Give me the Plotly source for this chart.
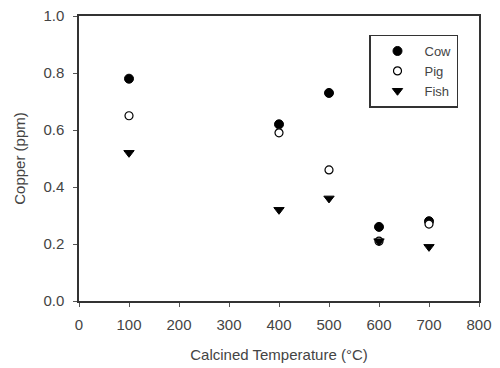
import plotly.graph_objects as go

temps = [100, 400, 500, 600, 700]
cow = [0.78, 0.62, 0.73, 0.26, 0.28]
pig = [0.65, 0.59, 0.46, 0.21, 0.27]
fish = [0.52, 0.32, 0.36, 0.21, 0.19]

x_ticks = [0, 100, 200, 300, 400, 500, 600, 700, 800]
y_ticks = [0.0, 0.2, 0.4, 0.6, 0.8, 1.0]

FONT = "Liberation Sans, Arial, sans-serif"
fig = go.Figure()
fig.add_trace(go.Scatter(x=temps, y=cow, mode="markers", name="Cow",
                         marker=dict(symbol="circle", size=9, color="black",
                                     line=dict(color="black", width=1))))
fig.add_trace(go.Scatter(x=temps, y=pig, mode="markers", name="Pig",
                         marker=dict(symbol="circle", size=8, color="white",
                                     line=dict(color="black", width=1.2))))
fig.add_trace(go.Scatter(x=temps, y=fish, mode="markers", name="Fish",
                         marker=dict(symbol="triangle-down", size=9, color="black",
                                     line=dict(color="black", width=1))))

axis_common = dict(showgrid=False, zeroline=False, showline=True, linecolor="#333",
                   linewidth=1.5, mirror=True, ticks="outside", ticklen=4,
                   tickcolor="#555", tickwidth=1, automargin=False,
                   tickfont=dict(family=FONT, size=15, color="#444"))
fig.update_xaxes(range=[0, 800], tickvals=x_ticks,
                 ticktext=[str(v) for v in x_ticks], ticklabelstandoff=5,
                 title=dict(text="Calcined Temperature (°C)",
                            font=dict(family=FONT, size=15, color="#444"), standoff=18),
                 **axis_common)
fig.update_yaxes(range=[0, 1.0], tickvals=y_ticks,
                 ticktext=[f"{v:.1f}" for v in y_ticks], ticklabelstandoff=6,
                 title=dict(text="Copper (ppm)",
                            font=dict(family=FONT, size=15, color="#444"), standoff=14),
                 **axis_common)
fig.update_layout(
    width=500, height=368,
    margin=dict(l=79, r=21, t=16, b=67, autoexpand=False),
    plot_bgcolor="white", paper_bgcolor="white",
    showlegend=True,
    legend=dict(x=0.725, y=0.935, xanchor="left", yanchor="top",
                bordercolor="#333", borderwidth=1.5, bgcolor="white",
                font=dict(family=FONT, size=13, color="#444"),
                tracegroupgap=0, itemwidth=44),
)
fig.write_html("out.html")
